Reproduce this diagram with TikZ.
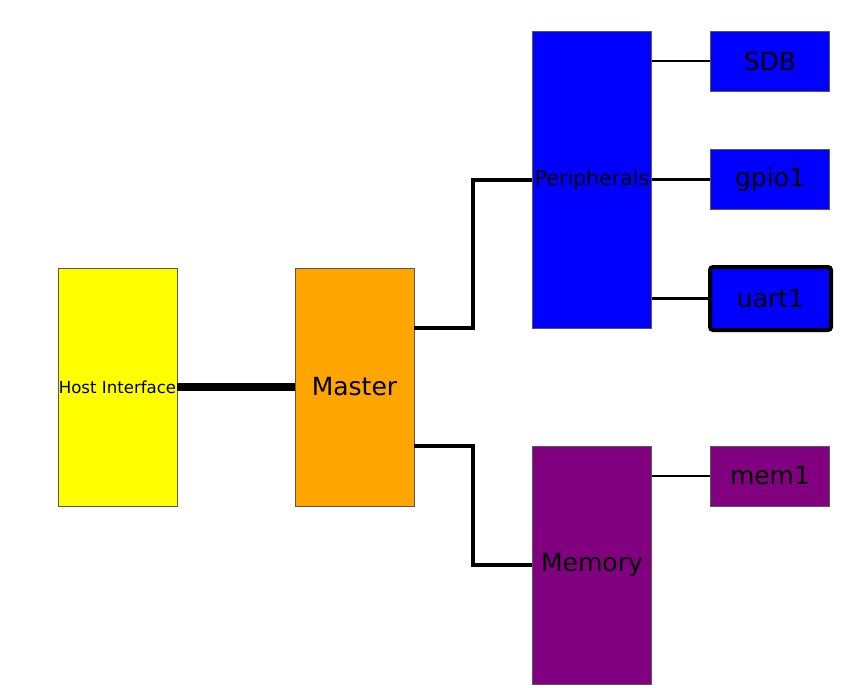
\documentclass[tikz,border=0pt]{standalone}
\usepackage{fontspec}
\setmainfont{DejaVu Sans}
\definecolor{cyel}{RGB}{255,255,0}
\definecolor{corg}{RGB}{255,165,0}
\definecolor{cblu}{RGB}{0,0,255}
\definecolor{cpur}{RGB}{128,0,128}
\begin{document}
\begin{tikzpicture}[x=1pt,y=-1pt,
  blk/.style={draw=black!65,line width=0.5pt,minimum width=119pt,inner sep=0pt,font=\fontsize{25}{29}\selectfont},
  leaf/.style={blk,minimum height=60pt},
  conn/.style={line width=2.5pt},
  bus/.style={line width=4pt}]
\useasboundingbox (0,0) rectangle (852,688);
\node[blk,fill=cyel,minimum height=238pt,font=\fontsize{16.6}{20}\selectfont] (host) at (117.5,387) {Host Interface};
\node[blk,fill=corg,minimum height=238pt] (master) at (354.5,387) {Master};
\node[blk,fill=cblu,minimum height=297pt,font=\fontsize{20.5}{24}\selectfont] (per) at (592,179.5) {Peripherals};
\node[blk,fill=cpur,minimum height=238pt] (mem) at (592,565) {Memory};
\node[leaf,fill=cblu] (sdb) at (770,61) {SDB};
\node[leaf,fill=cblu] (gpio) at (770,179.5) {gpio1};
\node[leaf,fill=cblu,draw=black,line width=4pt,rounded corners=3pt,minimum width=121pt,minimum height=63pt] (uart) at (770.5,298.5) {uart1};
\node[leaf,fill=cpur] (mem1) at (770,476) {mem1};
\draw[line width=8pt] (host.east) -- (master.west);
\coordinate (mp) at ([yshift=59pt]master.east);
\coordinate (mm) at ([yshift=-59pt]master.east);
\draw[bus] (mp) -- ++(59,0) |- (per.west);
\draw[bus] (mm) -- ++(59,0) |- (mem.west);
\draw[conn] (sdb.west -| per.east) -- (sdb.west);
\draw[conn] (per.east) -- (gpio.west);
\draw[conn] (uart.west -| per.east) -- (uart.west);
\draw[conn] (mem1.west -| mem.east) -- (mem1.west);
\end{tikzpicture}
\end{document}
